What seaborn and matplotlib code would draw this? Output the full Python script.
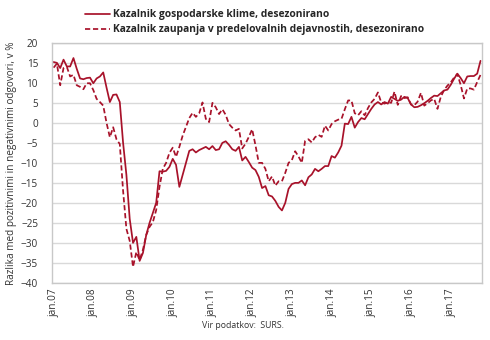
import numpy as np
import pandas as pd
import matplotlib
matplotlib.use("Agg")
import matplotlib.pyplot as plt
import seaborn as sns

# Monthly indicators, jan 2007 - oct 2017
months = pd.date_range("2007-01-01", periods=130, freq="MS")

gospodarska_klima = [
    15.2, 15.0, 13.7, 15.8, 14.1, 14.1, 16.2, 13.5, 11.1, 10.9, 11.2, 11.3,
    9.9, 11.1, 11.6, 12.6, 8.8, 5.2, 7.0, 7.1, 5.2, -5.0, -13.0, -24.0,
    -30.0, -28.5, -34.5, -32.5, -28.0, -25.0, -22.5, -20.0, -12.1, -12.2, -12.0, -11.0,
    -9.0, -10.5, -16.0, -13.0, -10.0, -7.0, -6.6, -7.4, -6.8, -6.4, -6.0, -6.6,
    -5.8, -6.8, -6.6, -5.0, -4.6, -5.5, -6.6, -7.0, -6.0, -9.4, -8.5, -9.8,
    -11.2, -11.8, -13.5, -16.3, -15.8, -18.1, -18.4, -19.5, -21.0, -21.9, -20.0, -16.5,
    -15.3, -15.0, -15.0, -14.4, -15.6, -13.6, -12.9, -11.5, -12.1, -11.5, -10.8, -10.8,
    -8.3, -8.7, -7.4, -5.7, -0.2, -0.3, 1.5, -1.2, 0.2, 1.2, 0.9, 2.2,
    3.5, 4.6, 5.2, 4.6, 5.2, 4.8, 6.5, 6.0, 5.5, 5.8, 6.5, 6.2,
    4.6, 3.9, 4.0, 4.4, 4.9, 5.5, 6.2, 6.8, 6.7, 7.4, 8.1, 8.3,
    9.5, 11.0, 12.3, 11.2, 9.9, 11.6, 11.7, 11.7, 12.3, 15.5,
]

zaupanje_predelovalne = [
    13.8, 14.8, 9.4, 13.7, 14.0, 11.6, 12.0, 9.4, 9.0, 8.4, 9.9, 9.9,
    8.2, 6.0, 5.2, 4.3, 0.0, -3.6, -1.1, -4.1, -5.3, -17.0, -26.5, -29.5,
    -36.0, -32.3, -34.3, -31.7, -28.0, -26.0, -24.8, -21.8, -16.0, -11.5, -10.0, -7.5,
    -6.2, -8.5, -6.0, -3.2, -1.0, 1.2, 2.5, 1.5, 2.4, 5.1, 1.0, 0.2,
    5.0, 3.9, 2.2, 3.4, 2.0, -0.3, -1.2, -1.9, -1.5, -6.4, -5.2, -3.5,
    -1.6, -5.6, -10.0, -10.0, -11.5, -14.6, -13.4, -15.7, -14.6, -14.6, -12.5, -10.0,
    -9.3, -7.1, -8.4, -10.0, -4.5, -4.1, -4.9, -3.6, -3.0, -3.5, -0.7, -1.9,
    -0.3, 0.4, 0.8, 1.0, 3.4, 5.6, 5.6, 2.4, 1.9, 2.9, 1.9, 3.7,
    5.1, 6.0, 7.6, 5.1, 4.8, 5.2, 5.0, 7.8, 4.5, 6.7, 6.2, 6.4,
    4.6, 4.4, 5.3, 7.5, 4.3, 4.9, 5.6, 6.0, 3.5, 6.5, 8.2, 9.3,
    10.1, 11.3, 12.2, 9.5, 6.1, 8.6, 8.6, 8.3, 10.2, 12.0,
]

label_klima = "Kazalnik gospodarske klime, desezonirano"
label_zaupanje = "Kazalnik zaupanja v predelovalnih dejavnostih, desezonirano"
tick_labels = ["jan.07", "jan.08", "jan.09", "jan.10", "jan.11", "jan.12",
               "jan.13", "jan.14", "jan.15", "jan.16", "jan.17"]

df = pd.DataFrame({
    "mesec": np.arange(len(months)),
    "klima": gospodarska_klima,
    "zaupanje": zaupanje_predelovalne,
})

sns.set_theme(style="white")
plt.rcParams["font.family"] = ["Open Sans", "DejaVu Sans"]

red = "#A8122A"
fig = plt.figure(figsize=(4.9, 3.4), dpi=100)
ax = fig.add_axes([0.106, 0.168, 0.878, 0.706])

sns.lineplot(data=df, x="mesec", y="klima", ax=ax, color=red, linewidth=1.25,
             label=label_klima)
sns.lineplot(data=df, x="mesec", y="zaupanje", ax=ax, color=red, linewidth=1.25,
             linestyle=(0, (3, 1.6)), label=label_zaupanje)

ax.set_ylim(-40, 20)
ax.set_yticks(np.arange(-40, 21, 5))
ax.set_xlim(-0.5, len(months) - 0.5)
ax.set_xticks(np.arange(0, 121, 12))
ax.set_xticklabels(tick_labels, rotation=90, fontsize=7.2, color="#333333")
ax.tick_params(axis="y", labelsize=7.2, colors="#333333", length=0, pad=10)
ax.tick_params(axis="x", length=0, pad=4)
ax.set_xlabel("")
ax.set_ylabel("Razlika med pozitivnimi in negativnimi odgovori, v %",
              fontsize=7.2, color="#333333", labelpad=3)

ax.grid(axis="y", color="#D9D9D9", linewidth=1.0)
ax.set_axisbelow(True)
for s in ax.spines.values():
    s.set_color("#C8C8C8")
    s.set_linewidth(1.0)

handles, labels = ax.get_legend_handles_labels()
ax.legend_.remove()
fig.legend(handles, labels, loc="upper left", bbox_to_anchor=(0.155, 1.0),
           frameon=False, handlelength=2.4, handletextpad=0.3,
           labelspacing=0.4, prop={"size": 7.35, "weight": "bold"})

fig.text(0.495, 1 - 326 / 340, "Vir podatkov:  SURS.", ha="center", va="center",
         fontsize=6.3, color="#333333")

fig.savefig("out.png", dpi=100)
